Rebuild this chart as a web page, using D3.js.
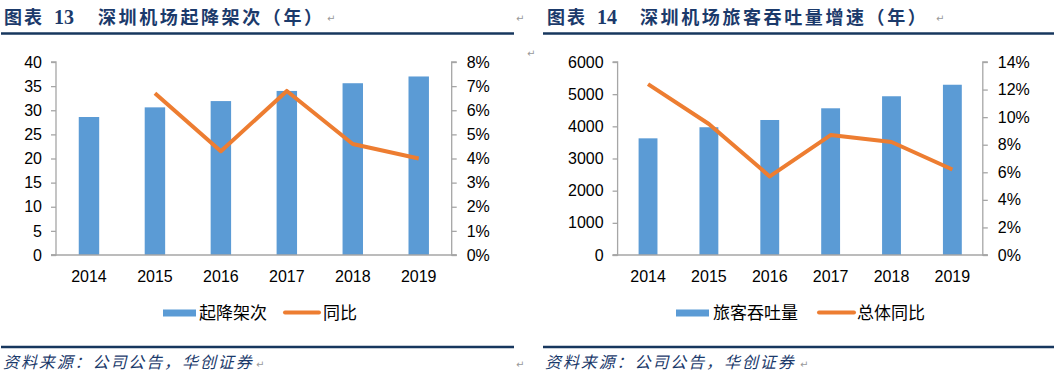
<!DOCTYPE html>
<html><head><meta charset="utf-8">
<script src="https://cdn.jsdelivr.net/npm/d3@7"></script>
<style>
html,body{margin:0;padding:0;background:#fff;}
svg{display:block;}
</style></head>
<body>
<svg id="c" width="1054" height="375"></svg>
<script>
// ---- data ----
const years = ["2014","2015","2016","2017","2018","2019"];
const movements = [28.6, 30.6, 31.9, 34.0, 35.6, 37.0];           // 起降架次 (万)
const movementsYoY = [null, 0.067, 0.043, 0.068, 0.046, 0.040];   // 同比
const passengers = [3627, 3972, 4197, 4561, 4935, 5293];          // 旅客吞吐量 (万人次)
const passengersYoY = [0.124, 0.095, 0.057, 0.087, 0.082, 0.062]; // 总体同比
const leftTicks1 = [0,5,10,15,20,25,30,35,40];
const rightTicks1 = [0,0.01,0.02,0.03,0.04,0.05,0.06,0.07,0.08];
const leftTicks2 = [0,1000,2000,3000,4000,5000,6000];
const rightTicks2 = [0,0.02,0.04,0.06,0.08,0.10,0.12,0.14];

const BLUE = "#5B9BD5", ORANGE = "#ED7D31", NAVY = "#1B3A6B", AXIS = "#A6A6A6";
const NUMFONT = "'Liberation Sans', Arial, sans-serif";
const CJK = "'Noto Sans CJK SC', sans-serif";

const svg = d3.select("#c");

function arrow(x, y) {
  svg.append("text").attr("x", x).attr("y", y).text("↵")
    .attr("font-family", "'DejaVu Sans', sans-serif").attr("font-size", 10).attr("fill", "#999");
}

function header(x0, num, title, lineX0, lineX1, arrowX, numX, titleX) {
  svg.append("text").attr("x", x0).attr("y", 24).text("图表")
    .attr("font-family", CJK).attr("font-weight", 700).attr("font-size", 18)
    .attr("letter-spacing", 2).attr("fill", NAVY);
  svg.append("text").attr("x", numX).attr("y", 23.5).text(num)
    .attr("font-family", "'Liberation Serif', serif").attr("font-weight", 700).attr("font-size", 20)
    .attr("fill", NAVY);
  svg.append("text").attr("x", titleX).attr("y", 24).text(title)
    .attr("font-family", CJK).attr("font-weight", 700).attr("font-size", 18)
    .attr("letter-spacing", 2.6).attr("fill", NAVY);
  arrow(arrowX, 22);
  svg.append("line").attr("x1", lineX0).attr("x2", lineX1).attr("y1", 33.5).attr("y2", 33.5)
    .attr("stroke", "#17375E").attr("stroke-width", 2.5);
}

function footer(x0, lineX0, lineX1, arrowX) {
  svg.append("line").attr("x1", lineX0).attr("x2", lineX1).attr("y1", 347).attr("y2", 347)
    .attr("stroke", "#17375E").attr("stroke-width", 2.5);
  svg.append("text").attr("x", x0).attr("y", 368).text("资料来源：公司公告，华创证券")
    .attr("font-family", CJK).attr("font-style", "italic").attr("font-size", 16)
    .attr("letter-spacing", 1.9).attr("fill", NAVY);
  arrow(arrowX, 368);
}

function chart(cfg) {
  const {x0, x1, y0, y1, bars, line, lTicks, rTicks, lMax, rMax, legend} = cfg;
  const g = svg.append("g");
  const x = d3.scaleBand().domain(years).range([x0, x1]).paddingInner(0.69).paddingOuter(0.345);
  const xc = d3.scaleBand().domain(years).range([x0, x1]);
  const yl = d3.scaleLinear().domain([0, lMax]).range([y1, y0]);
  const yr = d3.scaleLinear().domain([0, rMax]).range([y1, y0]);

  // bars
  g.selectAll("rect.bar").data(years).enter().append("rect")
    .attr("x", d => x(d)).attr("width", x.bandwidth())
    .attr("y", (d,i) => yl(bars[i])).attr("height", (d,i) => y1 - yl(bars[i]))
    .attr("fill", BLUE);

  // left axis
  const la = g.append("g").attr("transform", `translate(${x0},0)`)
    .call(d3.axisLeft(yl).tickValues(lTicks).tickSize(5).tickPadding(9).tickFormat(d3.format("d")));
  // right axis
  const ra = g.append("g").attr("transform", `translate(${x1},0)`)
    .call(d3.axisRight(yr).tickValues(rTicks).tickSize(5).tickPadding(10).tickFormat(d3.format(".0%")));
  // bottom axis
  const ba = g.append("g").attr("transform", `translate(0,${y1})`)
    .call(d3.axisBottom(xc).tickSize(0).tickPadding(16));
  [la, ra, ba].forEach(a => {
    a.select(".domain").attr("stroke", AXIS).attr("stroke-width", 1.3);
    a.selectAll(".tick line").attr("stroke", AXIS).attr("stroke-width", 1.3);
    a.selectAll("text").attr("font-family", NUMFONT).attr("font-size", 16).attr("fill", "#000");
  });
  la.select(".domain").attr("d", `M-5,${y0}H0V${y1}H-5`);
  ra.select(".domain").attr("d", `M5,${y0}H0V${y1}H5`);
  ba.select(".domain").attr("d", `M${x0-5},0H${x1+5}`);

  // line
  const pts = years.map((d,i) => [xc(d) + xc.bandwidth()/2, line[i]]).filter(p => p[1] != null);
  g.append("path").datum(pts)
    .attr("d", d3.line().x(p => p[0]).y(p => yr(p[1])))
    .attr("fill", "none").attr("stroke", ORANGE).attr("stroke-width", 4)
    .attr("stroke-linejoin", "round").attr("stroke-linecap", "butt");

  // legend
  const ly = 313;
  g.append("rect").attr("x", legend.sx).attr("y", ly - 3.5).attr("width", legend.sw).attr("height", 7).attr("fill", BLUE);
  g.append("text").attr("x", legend.t1x).attr("y", ly + 6).text(legend.t1)
    .attr("font-family", CJK).attr("font-size", 17).attr("fill", "#000");
  g.append("line").attr("x1", legend.lx).attr("x2", legend.lx + legend.lw).attr("y1", ly - 0.5).attr("y2", ly - 0.5)
    .attr("stroke", ORANGE).attr("stroke-width", 4).attr("stroke-linecap", "round");
  g.append("text").attr("x", legend.t2x).attr("y", ly + 6).text(legend.t2)
    .attr("font-family", CJK).attr("font-size", 17).attr("fill", "#000");
}

header(4, "13", "深圳机场起降架次（年）", 1, 514, 327, 54, 98);
header(547, "14", "深圳机场旅客吞吐量增速（年）", 543, 1054, 936, 597, 640);
arrow(516, 22);
arrow(527, 57);

chart({x0: 56, x1: 451.7, y0: 62, y1: 255, bars: movements, line: movementsYoY,
  lTicks: leftTicks1, rTicks: rightTicks1, lMax: 40, rMax: 0.08,
  legend: {sx: 163, sw: 33, t1x: 199, t1: "起降架次", lx: 285, lw: 34, t2x: 323, t2: "同比"}});
chart({x0: 617.6, x1: 982.8, y0: 62, y1: 255, bars: passengers, line: passengersYoY,
  lTicks: leftTicks2, rTicks: rightTicks2, lMax: 6000, rMax: 0.14,
  legend: {sx: 676, sw: 33, t1x: 713, t1: "旅客吞吐量", lx: 819, lw: 35, t2x: 857, t2: "总体同比"}});

footer(3, 1, 514, 256);
footer(545, 543, 1054, 800);
arrow(516, 368);
</script>
</body></html>
